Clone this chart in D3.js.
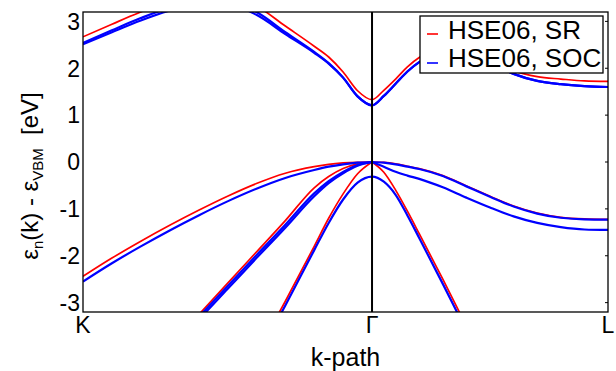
<!DOCTYPE html>
<html><head><meta charset="utf-8">
<script src="https://cdn.jsdelivr.net/npm/d3@7"></script>
<style>body{margin:0;background:#fff} svg{display:block;font-family:"Liberation Sans",Arial,sans-serif}</style>
</head><body>
<svg id="c" width="616" height="371"></svg>
<script>
// ---- data ----
const kLabels = ["K", "Γ", "L"];
const kLabelPos = [0, 1.0607, 1.9267];
const yTicks = [-3, -2, -1, 0, 1, 2, 3];
const seriesNames = ["HSE06, SR", "HSE06, SOC"];
// k-path coordinates (K -> Γ -> L), index 12 = Γ
const kGrid = [0, 0.1061, 0.2121, 0.3182, 0.4243, 0.5303, 0.6364, 0.7425, 0.8485, 0.9016, 0.9546, 1.0077, 1.0607,
               1.1040, 1.1473, 1.1906, 1.2339, 1.3205, 1.4071, 1.4937, 1.5803, 1.6669, 1.7535, 1.8401, 1.9267];
// scalar-relativistic bands (eV)
const srCB    = [2.67, 2.94, 3.20, 3.42, 3.55, 3.55, 3.33, 2.90, 2.47, 2.24, 1.92, 1.52, 1.33,
                 1.53, 1.77, 2.03, 2.23, 2.42, 2.42, 2.20, 1.95, 1.82, 1.77, 1.73, 1.72];
const srHH    = [-2.44, -2.05, -1.69, -1.35, -1.03, -0.73, -0.46, -0.24, -0.10, -0.05, -0.02, -0.005, 0,
                 -0.01, -0.04, -0.09, -0.14, -0.29, -0.51, -0.73, -0.94, -1.09, -1.18, -1.215, -1.225];
const srLH    = [null, null, null, -3.93, -3.26, -2.59, -1.92, -1.25, -0.55, -0.31, -0.14, -0.04, 0,
                 null, null, null, null, null, null, null, null, null, null, null, null];
const srLH2   = [null, null, null, null, null, null, -4.1, -2.97, -1.80, -1.20, -0.68, -0.25, 0,
                 -0.22, -0.60, -1.05, -1.53, -2.50, -3.50, null, null, null, null, null, null];
// spin-orbit bands (eV)
const socCB1  = [2.54, 2.81, 3.07, 3.29, 3.42, 3.42, 3.20, 2.77, 2.35, 2.11, 1.80, 1.40, 1.21,
                 1.41, 1.67, 1.93, 2.13, 2.33, 2.33, 2.12, 1.88, 1.73, 1.66, 1.62, 1.60];
const socCB2  = [2.51, 2.77, 3.02, 3.23, 3.36, 3.36, 3.14, 2.73, 2.33, 2.10, 1.80, 1.40, 1.21,
                 1.41, 1.67, 1.93, 2.13, 2.33, 2.33, 2.12, 1.88, 1.73, 1.66, 1.62, 1.60];
const socHH   = [-2.55, -2.16, -1.80, -1.46, -1.14, -0.84, -0.57, -0.34, -0.17, -0.10, -0.05, -0.015, 0,
                 -0.015, -0.05, -0.10, -0.15, -0.30, -0.52, -0.74, -0.95, -1.10, -1.19, -1.225, -1.23];
const socLH1  = [null, null, null, -3.97, -3.31, -2.65, -1.99, -1.34, -0.67, -0.41, -0.21, -0.065, 0,
                 -0.10, -0.21, -0.29, -0.36, -0.54, -0.76, -0.97, -1.16, -1.30, -1.39, -1.44, -1.45];
const socLH2  = [null, null, null, -4.05, -3.37, -2.71, -2.05, -1.40, -0.73, -0.45, -0.24, -0.08, 0,
                 null, null, null, null, null, null, null, null, null, null, null, null];
const socSO   = [null, null, null, null, null, null, -4.2, -3.06, -1.88, -1.30, -0.80, -0.44, -0.31,
                 -0.42, -0.70, -1.14, -1.62, -2.60, -3.60, null, null, null, null, null, null];

const srBands  = [{v: srCB, smooth: true}, {v: srHH}, {v: srLH}, {v: srLH2}];
const socBands = [{v: socCB1, smooth: true}, {v: socCB2, smooth: true}, {v: socHH}, {v: socLH1}, {v: socLH2}, {v: socSO, smooth: true}];
const colors = ["#ff0000", "#0000ff"];
const widths = [1.7, 2.2];

// ---- layout ----
const L = 83, R = 608, T = 12, B = 312;
const svg = d3.select("#c");
const x = d3.scaleLinear().domain([kLabelPos[0], kLabelPos[2]]).range([L, R]);
const y = d3.scaleLinear().domain([-3.2, 3.2]).range([B, T]);
const gIdx = 12;

svg.append("defs").append("clipPath").attr("id", "clip")
  .append("rect").attr("x", L).attr("y", T).attr("width", R - L).attr("height", B - T);

const line = d3.line()
  .defined(d => d[1] !== null)
  .x(d => x(d[0])).y(d => y(d[1]))
  .curve(d3.curveMonotoneX);

const plot = svg.append("g").attr("clip-path", "url(#clip)");

function drawBands(bands, ci) {
  bands.forEach(b => {
    const pts = kGrid.map((k, i) => [k, b.v[i]]);
    const segs = b.smooth ? [pts] : [pts.slice(0, gIdx + 1), pts.slice(gIdx)];
    segs.forEach(s => {
      plot.append("path").attr("d", line(s)).attr("fill", "none")
        .attr("stroke", colors[ci]).attr("stroke-width", widths[ci])
        .attr("stroke-linejoin", "round");
    });
  });
}
drawBands(srBands, 0);
drawBands(socBands, 1);

// Γ vertical line
svg.append("line").attr("x1", x(kLabelPos[1])).attr("x2", x(kLabelPos[1]))
  .attr("y1", T).attr("y2", B).attr("stroke", "#000").attr("stroke-width", 2);

// frame
svg.append("rect").attr("x", L).attr("y", T).attr("width", R - L).attr("height", B - T)
  .attr("fill", "none").attr("stroke", "#000").attr("stroke-width", 1.3);

// right inward ticks
svg.append("g").selectAll("line").data(yTicks).join("line")
  .attr("x1", R - 3).attr("x2", R).attr("y1", d => y(d)).attr("y2", d => y(d))
  .attr("stroke", "#000").attr("stroke-width", 1);

// y tick labels
svg.append("g").selectAll("text").data(yTicks).join("text")
  .attr("x", 80).attr("y", d => y(d)).attr("dy", "0.36em")
  .attr("text-anchor", "end").attr("font-size", 23).attr("fill", "#000")
  .text(d => d < 0 ? "-" + Math.abs(d) : String(d));

// x tick labels
svg.append("g").selectAll("text").data(kLabels).join("text")
  .attr("x", (d, i) => x(kLabelPos[i])).attr("y", 333)
  .attr("text-anchor", "middle").attr("font-size", 23).attr("fill", "#000")
  .text(d => d);

// axis titles
svg.append("text").attr("x", (L + R) / 2).attr("y", 366).attr("text-anchor", "middle")
  .attr("font-size", 25).text("k-path");

const yl = svg.append("text").attr("transform", "translate(38,176) rotate(-90)")
  .attr("text-anchor", "middle").attr("font-size", 24).style("white-space", "pre");
yl.append("tspan").text("ε");
yl.append("tspan").attr("font-size", 15).attr("dy", 5).text("n");
yl.append("tspan").attr("dy", -5).text("(k) - ε");
yl.append("tspan").attr("font-size", 15).attr("dy", 5).text("VBM");
yl.append("tspan").attr("dy", -5).text("  [eV]");

// legend
const lg = svg.append("g");
lg.append("rect").attr("x", 420).attr("y", 16).attr("width", 183).attr("height", 57)
  .attr("fill", "#fff").attr("stroke", "#000").attr("stroke-width", 1.3);
const legLineY = [34, 63], legTextY = [38.5, 67];
seriesNames.forEach((name, i) => {
  lg.append("line").attr("x1", 427).attr("x2", 438).attr("y1", legLineY[i]).attr("y2", legLineY[i])
    .attr("stroke", colors[i]).attr("stroke-width", 1.6);
  lg.append("text").attr("x", 448).attr("y", legTextY[i])
    .attr("font-size", 26).attr("fill", "#000").text(name);
});
</script>
</body></html>
